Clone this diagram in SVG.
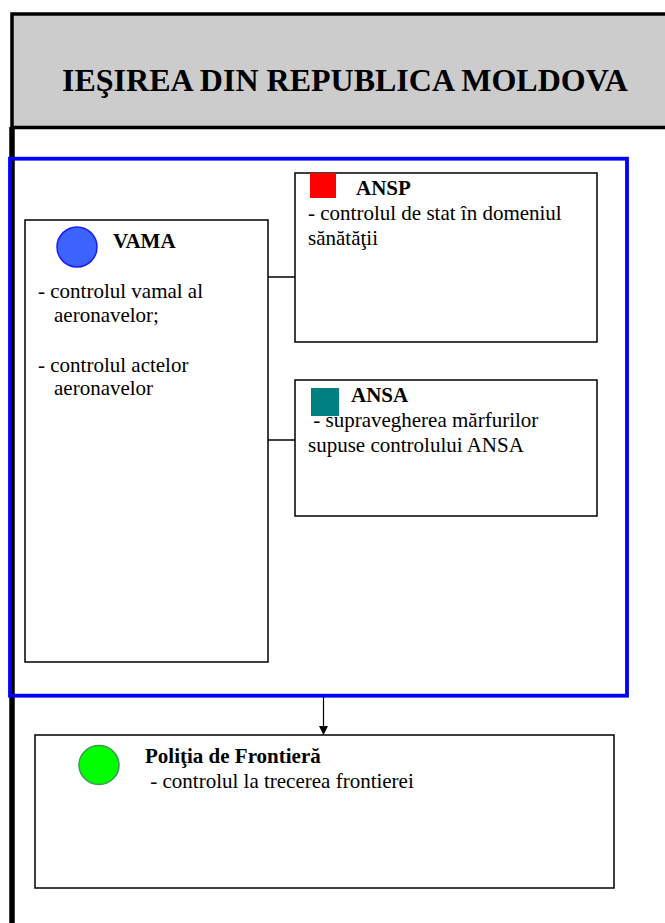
<svg xmlns="http://www.w3.org/2000/svg" width="665" height="923" viewBox="0 0 665 923">
<style>
.box{fill:#ffffff;stroke:#000000;stroke-width:1.5}
.t{font-family:"Liberation Serif","Times New Roman",serif;font-size:21px;fill:#000000}
.b{font-weight:bold}
.conn{stroke:#000000;stroke-width:1.5;fill:none}
</style>
<defs>
<marker id="arr" viewBox="0 0 10 10" refX="10" refY="5" markerWidth="10" markerHeight="9" markerUnits="userSpaceOnUse" orient="auto">
<path d="M0,0 L10,5 L0,10 z" fill="#000000"/>
</marker>
</defs>
<g id="header">
<rect x="12" y="14" width="700" height="113.5" fill="#cccccc" stroke="#000000" stroke-width="3.5"/>
<text class="t b" x="62" y="91" style="font-size:32px">IEŞIREA DIN REPUBLICA MOLDOVA</text>
</g>
<line x1="12" y1="127" x2="12" y2="923" stroke="#000000" stroke-width="5.5"/>
<g id="group-frame">
<rect x="10" y="158.7" width="617" height="537" fill="none" stroke="#0000ff" stroke-width="3.8"/>
</g>
<g id="connectors">
<line class="conn" x1="268" y1="277" x2="295" y2="277"/>
<line class="conn" x1="268" y1="440" x2="295" y2="440"/>
<line x1="323.5" y1="697" x2="323.5" y2="735" stroke="#000000" stroke-width="1.2" marker-end="url(#arr)"/>
</g>
<g id="vama">
<rect class="box" x="25" y="220" width="243" height="442"/>
<circle cx="77" cy="247" r="20" fill="#3d63ff" stroke="#1a1aff" stroke-width="1.5"/>
<text class="t b" x="113" y="248">VAMA</text>
<text class="t" x="38" y="298">- controlul vamal al</text>
<text class="t" x="54" y="322">aeronavelor;</text>
<text class="t" x="38" y="372">- controlul actelor</text>
<text class="t" x="54" y="395">aeronavelor</text>
</g>
<g id="ansp">
<rect class="box" x="295" y="173" width="302" height="169"/>
<rect x="310" y="173" width="26" height="25" fill="#ff0000"/>
<text class="t b" x="356" y="195">ANSP</text>
<text class="t" x="308" y="220">- controlul de stat în domeniul</text>
<text class="t" x="308" y="245">sănătăţii</text>
</g>
<g id="ansa">
<rect class="box" x="295" y="380" width="302" height="136"/>
<rect x="311" y="388" width="28" height="28" fill="#008080"/>
<text class="t b" x="351" y="402">ANSA</text>
<text class="t" x="308" y="427" xml:space="preserve"> - supravegherea mărfurilor</text>
<text class="t" x="308" y="452">supuse controlului ANSA</text>
</g>
<g id="politia">
<rect class="box" x="35" y="735" width="579" height="153"/>
<ellipse cx="99" cy="765" rx="20" ry="19.5" fill="#00ff00" stroke="#3a9a5a" stroke-width="1.5"/>
<text class="t b" x="145" y="763">Poliţia de Frontieră</text>
<text class="t" x="145" y="788" xml:space="preserve"> - controlul la trecerea frontierei</text>
</g>
</svg>
